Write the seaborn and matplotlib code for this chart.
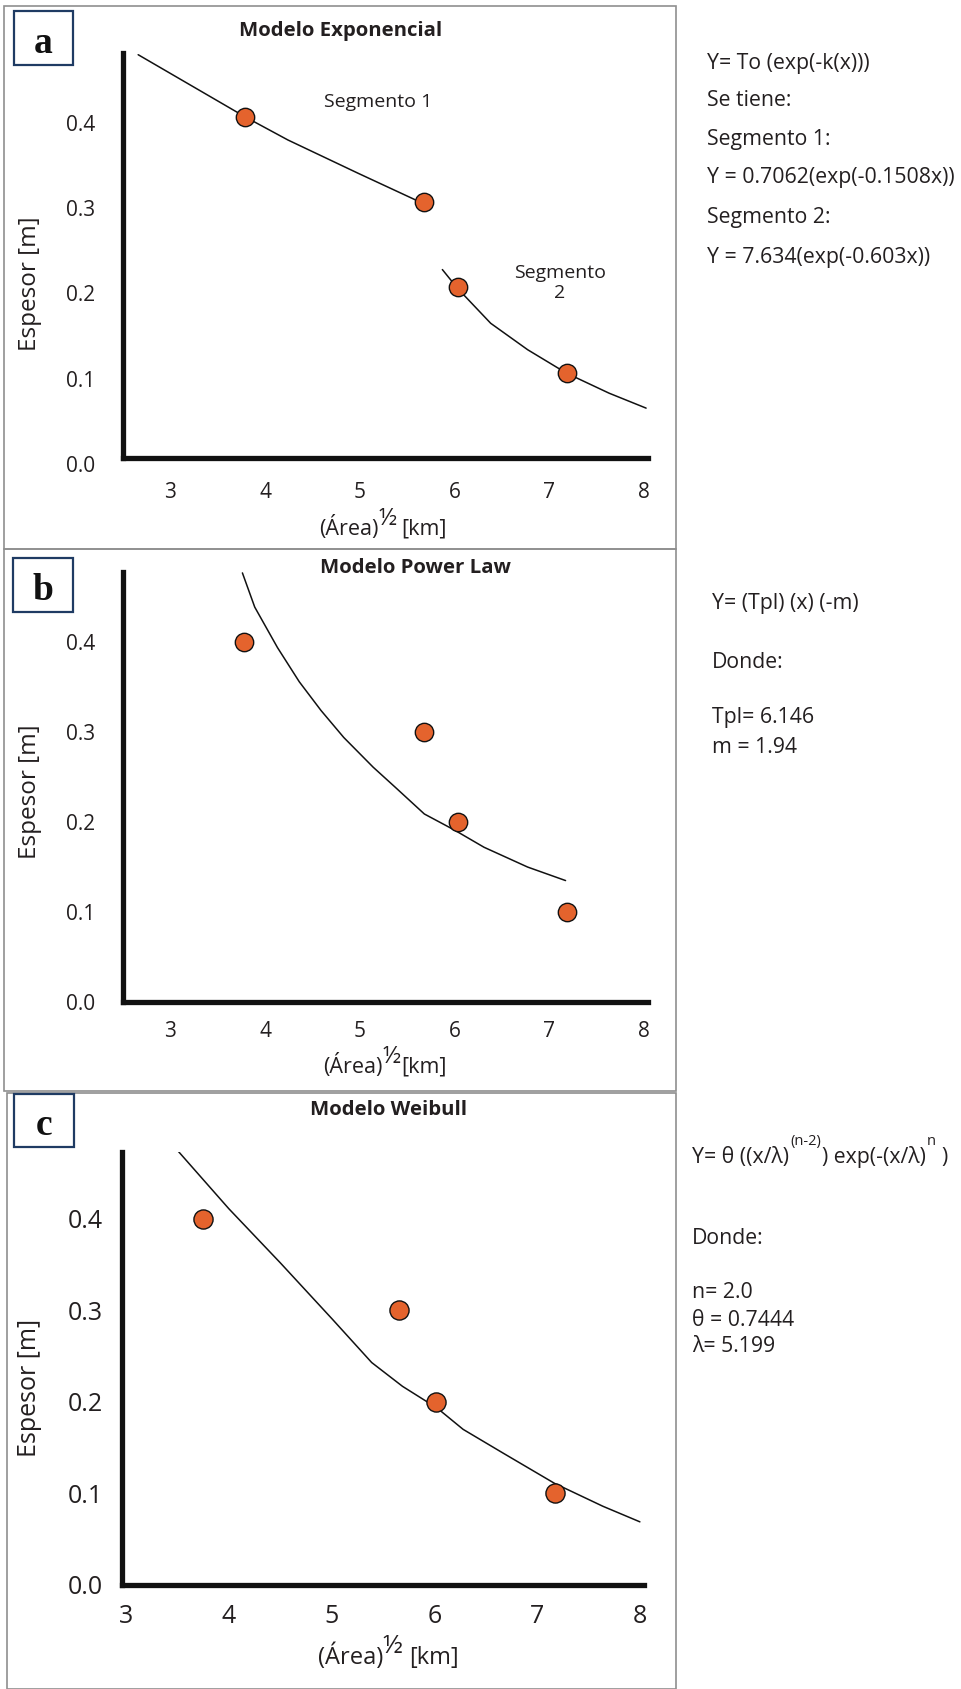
import matplotlib
matplotlib.use("Agg")
import matplotlib.pyplot as plt
import seaborn as sns
import pandas as pd
from matplotlib.patches import Rectangle
from matplotlib.transforms import ScaledTranslation

# ---------------- data ----------------
x_ticks = [3, 4, 5, 6, 7, 8]
y_ticks = [0.0, 0.1, 0.2, 0.3, 0.4]

# observed points
obs_x_a = [3.79, 5.68, 6.03, 7.18]
obs_y_a = [0.40, 0.30, 0.20, 0.10]
obs_x_b = [3.78, 5.68, 6.03, 7.19]
obs_y_b = [0.40, 0.30, 0.20, 0.10]
obs_x_c = [3.75, 5.66, 6.02, 7.17]
obs_y_c = [0.40, 0.30, 0.20, 0.10]

# (a) exponential model, two segments
seg1_x = [2.66, 3.79, 4.24, 4.98, 5.60, 5.68]
seg1_y = [0.473, 0.400, 0.373, 0.334, 0.302, 0.299]
seg2_x = [5.87, 6.03, 6.38, 6.77, 7.18, 7.63, 8.02]
seg2_y = [0.221, 0.199, 0.158, 0.127, 0.0995, 0.076, 0.0585]

# (b) power law curve
pl_x = [3.76, 3.89, 4.13, 4.36, 4.59, 4.83, 5.14, 5.37, 5.68, 6.00, 6.31, 6.77, 7.17]
pl_y = [0.477, 0.439, 0.394, 0.356, 0.324, 0.294, 0.261, 0.239, 0.209, 0.191, 0.172, 0.150, 0.135]

# (c) Weibull curve
wb_x = [3.49, 4.00, 4.50, 5.01, 5.39, 5.69, 6.03, 6.28, 6.67, 7.17, 7.64, 8.00]
wb_y = [0.476, 0.411, 0.352, 0.290, 0.243, 0.217, 0.193, 0.170, 0.144, 0.111, 0.086, 0.069]

titles = ["Modelo Exponencial", "Modelo Power Law", "Modelo Weibull"]
panel_letters = ["a", "b", "c"]
ylabel_txt = "Espesor [m]"
xlabel_parts = ["(Área)", "½", "[km]"]
seg_labels = ["Segmento 1", "Segmento\n2"]
text_a = ["Y= To (exp(-k(x)))", "Se tiene:", "Segmento 1:",
          "Y = 0.7062(exp(-0.1508x))", "Segmento 2:", "Y = 7.634(exp(-0.603x))"]
text_b = ["Y= (Tpl) (x) (-m)", "Donde:", "Tpl= 6.146", "m = 1.94"]
text_c_formula = ["Y= θ ((x/λ)", "(n-2)", ") exp(-(x/λ)", "n", ")"]
text_c = ["Donde:", "n= 2.0", "θ = 0.7444", "λ= 5.199"]

# long table for the two exponential segments
exp_df = pd.DataFrame({
    "x": seg1_x + seg2_x,
    "y": seg1_y + seg2_y,
    "seg": [1] * len(seg1_x) + [2] * len(seg2_x),
})

# ---------------- style ----------------
sns.set_theme(style="white")
plt.rcParams["font.family"] = ["Open Sans", "DejaVu Sans"]

W, H = 961, 1689
fig = plt.figure(figsize=(W / 100, H / 100), dpi=100)
fig.patch.set_facecolor("white")
renderer = fig.canvas.get_renderer()

INK = "#231f20"
ORANGE = "#E4632D"


def add_ax(l, r, t, b):
    return fig.add_axes([l / W, 1 - b / H, (r - l) / W, (b - t) / H])


def ftext(px, py, s, **kw):
    return fig.text(px / W, 1 - py / H, s, **kw)


def frame(l, t, r, b, **kw):
    rect = Rectangle((l / W, 1 - b / H), (r - l) / W, (b - t) / H,
                     transform=fig.transFigure, **kw)
    fig.add_artist(rect)


def compose(pieces, x0, base, center=False):
    """pieces: (text, fontsize, raise_px, gap_before_px); laid out left to right."""
    arts = []
    x = x0
    for s, size, rise, gap in pieces:
        x += gap
        t = ftext(x, base - rise, s, fontsize=size, color=INK, ha="left", va="baseline")
        w = t.get_window_extent(renderer=renderer).width
        arts.append((t, x, base - rise))
        x += w
    if center:
        shift = -(x - x0) / 2
        for t, px, py in arts:
            t.set_position(((px + shift) / W, 1 - py / H))
    return arts


def style_ax(ax, xlim, ylim, tsize, ypad, xpad):
    ax.set_xlim(xlim)
    ax.set_ylim(ylim)
    ax.set_xticks(x_ticks, labels=[str(v) for v in x_ticks])
    ax.set_yticks(y_ticks, labels=[f"{v:.1f}" for v in y_ticks])
    for s in ["top", "right"]:
        ax.spines[s].set_visible(False)
    for s in ["left", "bottom"]:
        ax.spines[s].set_linewidth(3.8)
        ax.spines[s].set_color("#111111")
        ax.spines[s].set_capstyle("projecting")
    ax.tick_params(length=0, labelsize=tsize, colors=INK)
    ax.tick_params(axis="y", pad=ypad)
    ax.tick_params(axis="x", pad=xpad)
    ax.set_facecolor("none")
    ax.grid(False)
    ax.set_xlabel("")
    ax.set_ylabel("")


def ylabel(py, size):
    ftext(30, py, ylabel_txt, fontsize=size, color=INK, rotation=90,
          ha="center", va="center")


# ---------------- panel frames ----------------
FRAME = "#8f8f8f"
frame(4, 6, 676, 549, fill=False, edgecolor=FRAME, lw=1.2)
frame(4, 549, 676, 1091, fill=False, edgecolor=FRAME, lw=1.2)
frame(7, 1093, 676, 1689, fill=False, edgecolor=FRAME, lw=1.2)

# ---------------- panel a ----------------
ax_a = add_ax(123, 648, 53, 458)
ax_a.set_zorder(4)
sns.lineplot(data=exp_df, x="x", y="y", units="seg", ax=ax_a, color="#111111", lw=1.1,
             sort=False, estimator=None, legend=False)
sns.scatterplot(x=obs_x_a, y=obs_y_a, ax=ax_a, s=175, color=ORANGE, edgecolor="#111111",
                linewidth=1.0, zorder=3, legend=False)
style_ax(ax_a, (2.5, 8.04), (0, 0.475), 15, 20, 17)
ylabel(284, 17.5)
compose([(xlabel_parts[0], 15.5, 0, 0), (xlabel_parts[1], 17, 10, 0),
         (xlabel_parts[2], 15.5, 0, 5)], 383, 535, center=True)
ftext(378, 102, seg_labels[0], fontsize=14, color=INK, ha="center", va="center")
ftext(560, 283, seg_labels[1], fontsize=14, color=INK, ha="center", va="center",
      linespacing=1.2)

# ---------------- panel b ----------------
ax_b = add_ax(123, 648, 572, 1002)
sns.lineplot(x=pl_x, y=pl_y, ax=ax_b, color="#111111", lw=1.1, sort=False, estimator=None)
sns.scatterplot(x=obs_x_b, y=obs_y_b, ax=ax_b, s=175, color=ORANGE, edgecolor="#111111",
                linewidth=1.0, zorder=3)
style_ax(ax_b, (2.5, 8.04), (0, 0.478), 15, 20, 14)
ylabel(792, 17.5)
compose([(xlabel_parts[0], 15.5, 0, 0), (xlabel_parts[1], 17, 10, 0),
         (xlabel_parts[2], 15.5, 0, 1)], 385, 1073, center=True)

# ---------------- panel c ----------------
ax_c = add_ax(122, 644, 1152, 1585)
sns.lineplot(x=wb_x, y=wb_y, ax=ax_c, color="#111111", lw=1.1, sort=False, estimator=None)
sns.scatterplot(x=obs_x_c, y=obs_y_c, ax=ax_c, s=190, color=ORANGE, edgecolor="#111111",
                linewidth=1.0, zorder=3)
style_ax(ax_c, (2.96, 8.04), (0, 0.473), 18, 14, 14)
ylabel(1388, 18)
compose([(xlabel_parts[0], 17, 0, 0), (xlabel_parts[1], 18.5, 11, 0),
         (xlabel_parts[2], 17, 0, 6)], 388, 1664, center=True)

# ---------------- titles & panel letters ----------------
title_pos = [(341, 31), (415, 568), (388, 1110)]
for (px, py), t in zip(title_pos, titles):
    ftext(px, py, t, fontsize=14.7, fontweight="bold", color=INK, ha="center", va="center")

letter_boxes = [(14, 11, 73, 65), (13, 558, 73, 612), (14, 1094, 74, 1147)]
for (l, t, r, b), s in zip(letter_boxes, panel_letters):
    frame(l, t, r, b, fill=True, facecolor="white", edgecolor="#1f3b63", lw=1.6)
    ftext((l + r) / 2, b - 12, s, fontsize=27, fontweight="bold", color="#111111",
          ha="center", va="baseline", family=["Liberation Serif", "DejaVu Serif"])

# ---------------- right-hand equations ----------------
RT = 15.3
for py, s in zip([63, 100, 139, 178, 217, 257], text_a):
    ftext(707, py, s, fontsize=RT, color=INK, ha="left", va="center")
for py, s in zip([604, 662, 718, 747], text_b):
    ftext(712, py, s, fontsize=RT, color=INK, ha="left", va="center")
compose([(text_c_formula[0], RT, 0, 0), (text_c_formula[1], 10.5, 18, 1),
         (text_c_formula[2], RT, 0, 1), (text_c_formula[3], 10.5, 18, 1),
         (text_c_formula[4], RT, 0, 6)], 692, 1163)
for py, s in zip([1238, 1293, 1320, 1347], text_c):
    ftext(692, py, s, fontsize=RT, color=INK, ha="left", va="center")

# nudge panel-a y tick labels slightly down, as in the reference
fig.canvas.draw()
off = ScaledTranslation(0, -6 / 100, fig.dpi_scale_trans)
for tick in ax_a.yaxis.get_major_ticks():
    tick.label1.set_transform(tick.label1.get_transform() + off)

fig.savefig("out.png", dpi=100, facecolor="white")

# safety check: every x tick label of every panel must actually show ink;
# if one came out blank, redraw that label's text on top and save again.
img = plt.imread("out.png")
redo = False
for ax in (ax_a, ax_b, ax_c):
    for tk in ax.xaxis.get_major_ticks():
        lb = tk.label1
        bb = lb.get_window_extent(renderer=renderer)
        r0, r1 = int(H - bb.y1), int(H - bb.y0)
        c0, c1 = int(bb.x0), int(bb.x1) + 1
        patch = img[max(r0, 0):min(r1, H), max(c0, 0):min(c1, W), :3]
        if patch.size and patch.min() > 0.6:
            cx, cy = (bb.x0 + bb.x1) / 2, (bb.y0 + bb.y1) / 2
            fig.text(cx / W, cy / H, lb.get_text(), fontsize=lb.get_fontsize(),
                     color=INK, ha="center", va="center", zorder=20)
            redo = True
if redo:
    fig.savefig("out.png", dpi=100, facecolor="white")
